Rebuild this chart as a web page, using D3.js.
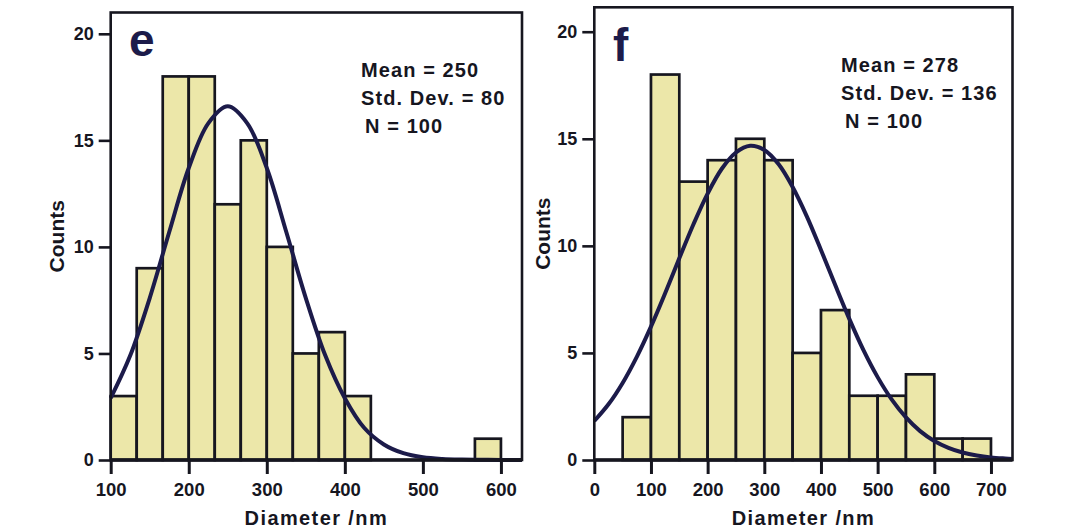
<!DOCTYPE html>
<html>
<head>
<meta charset="utf-8">
<script src="https://cdn.jsdelivr.net/npm/d3@7"></script>
<style>
  html, body { margin: 0; padding: 0; background: #fff; }
  svg { display: block; }
  text { font-family: "Liberation Sans", Arial, Helvetica, sans-serif; font-weight: bold; }
</style>
</head>
<body>
<svg id="chart" width="1081" height="529"></svg>
<script>
// Panel e: bins of 33.3 nm starting at 100
const eBinStart = [100, 133.33, 166.67, 200, 233.33, 266.67, 300, 333.33, 366.67, 400, 566.67];
const eCounts   = [3, 9, 18, 18, 12, 15, 10, 5, 6, 3, 1];
const eBinWidth = 33.33;
const eStats = ["Mean = 250", "Std. Dev. = 80", "N = 100"];
// fitted normal curve
const eCurveX = [100, 125, 150, 175, 200, 225, 250, 275, 300, 325, 350, 375, 400, 425, 450, 475, 500, 525, 550, 575, 600, 627];
const eCurveY = [2.9, 4.9, 7.6, 10.7, 13.7, 15.8, 16.6, 15.8, 13.7, 10.7, 7.6, 4.9, 2.9, 1.5, 0.73, 0.32, 0.13, 0.05, 0.02, 0.01, 0, 0];
const eXTicks = [100, 200, 300, 400, 500, 600];

// Panel f: bins of 50 nm starting at 50
const fBinStart = [50, 100, 150, 200, 250, 300, 350, 400, 450, 500, 550, 600, 650];
const fCounts   = [2, 18, 13, 14, 15, 14, 5, 7, 3, 3, 4, 1, 1];
const fBinWidth = 50;
const fStats = ["Mean = 278", "Std. Dev. = 136", "N = 100"];
const fCurveX = [0, 25, 50, 75, 100, 125, 150, 175, 200, 225, 250, 275, 300, 325, 350, 375, 400, 425, 450, 475, 500, 525, 550, 575, 600, 625, 650, 675, 700, 725, 738];
const fCurveY = [1.82, 2.6, 3.6, 4.82, 6.23, 7.79, 9.42, 11.01, 12.44, 13.6, 14.36, 14.67, 14.48, 13.82, 12.75, 11.38, 9.81, 8.18, 6.59, 5.13, 3.87, 2.82, 1.99, 1.35, 0.89, 0.57, 0.35, 0.21, 0.12, 0.07, 0.05];
const fXTicks = [0, 100, 200, 300, 400, 500, 600, 700];

const yTicks = [0, 5, 10, 15, 20];

const panels = [
  { letter: "e", bins: eBinStart, counts: eCounts, bw: eBinWidth, stats: eStats, cx: eCurveX, cy: eCurveY, xTicks: eXTicks,
    xDomain: [100, 627], yMax: 21.0, left: 110.7, right: 522, top: 12.5, bottom: 460,
    letterX: 129, letterY: 56, statsX: 361, statsY: 77, ylabX: 57 },
  { letter: "f", bins: fBinStart, counts: fCounts, bw: fBinWidth, stats: fStats, cx: fCurveX, cy: fCurveY, xTicks: fXTicks,
    xDomain: [0, 738], yMax: 21.14, left: 594.3, right: 1012.5, top: 7.3, bottom: 460,
    letterX: 613, letterY: 61, statsX: 841, statsY: 72, ylabX: 543 }
];

const svg = d3.select("#chart");
const ink = "#16161f";
const curveColor = "#1c1b4a";
const barFill = "#ece7a9";

panels.forEach(p => {
  const x = d3.scaleLinear().domain(p.xDomain).range([p.left, p.right]);
  const y = d3.scaleLinear().domain([0, p.yMax]).range([p.bottom, p.top]);
  const g = svg.append("g");

  // bars
  g.selectAll(".bar")
    .data(p.bins.map((b, i) => ({ x0: b, n: p.counts[i] })))
    .enter().append("rect")
    .attr("class", "bar")
    .attr("x", d => x(d.x0))
    .attr("width", d => x(d.x0 + p.bw) - x(d.x0))
    .attr("y", d => y(d.n))
    .attr("height", d => y(0) - y(d.n))
    .attr("fill", barFill)
    .attr("stroke", ink)
    .attr("stroke-width", 2.7);

  // normal curve
  const line = d3.line()
    .x(d => x(d[0]))
    .y(d => y(d[1]))
    .curve(d3.curveCatmullRom);
  g.append("path")
    .datum(p.cx.map((v, i) => [v, p.cy[i]]))
    .attr("d", line)
    .attr("fill", "none")
    .attr("stroke", curveColor)
    .attr("stroke-width", 4)
    .attr("stroke-linejoin", "round");

  // frame
  g.append("rect")
    .attr("x", p.left).attr("y", p.top)
    .attr("width", p.right - p.left).attr("height", p.bottom - p.top)
    .attr("fill", "none").attr("stroke", ink).attr("stroke-width", 2.6);
  g.append("line")
    .attr("x1", p.left).attr("x2", p.right)
    .attr("y1", p.bottom).attr("y2", p.bottom)
    .attr("stroke", ink).attr("stroke-width", 3.6);

  // axes
  const ax = g.append("g")
    .attr("transform", `translate(0,${p.bottom})`)
    .call(d3.axisBottom(x).tickValues(p.xTicks).tickSize(14).tickPadding(9));
  ax.select(".domain").remove();
  ax.selectAll("line").attr("stroke", ink).attr("stroke-width", 3);
  ax.selectAll("text").attr("fill", ink).style("font-size", "18.5px");

  const ay = g.append("g")
    .attr("transform", `translate(${p.left},0)`)
    .call(d3.axisLeft(y).tickValues(yTicks).tickSize(12).tickPadding(5));
  ay.select(".domain").remove();
  ay.selectAll("line").attr("stroke", ink).attr("stroke-width", 2.6);
  ay.selectAll("text").attr("fill", ink).style("font-size", "18px");

  // labels
  g.append("text")
    .attr("x", p.letterX).attr("y", p.letterY)
    .attr("fill", curveColor)
    .style("font-size", "46px")
    .text(p.letter);

  g.selectAll(".stat")
    .data(p.stats)
    .enter().append("text")
    .attr("x", (d, i) => p.statsX + (i === 2 ? 4 : 0))
    .attr("y", (d, i) => p.statsY + i * 28)
    .attr("fill", ink)
    .style("font-size", "20px")
    .style("letter-spacing", "1.1px")
    .text(d => d);

  g.append("text")
    .attr("x", (p.left + p.right) / 2).attr("y", 525)
    .attr("text-anchor", "middle")
    .attr("fill", ink)
    .style("font-size", "20px")
    .style("letter-spacing", "1.4px")
    .text("Diameter /nm");

  g.append("text")
    .attr("transform", `translate(${p.ylabX},${(p.top + p.bottom) / 2}) rotate(-90)`)
    .attr("text-anchor", "middle")
    .attr("dy", "0.35em")
    .attr("fill", ink)
    .style("font-size", "21px")
    .text("Counts");
});
</script>
</body>
</html>
